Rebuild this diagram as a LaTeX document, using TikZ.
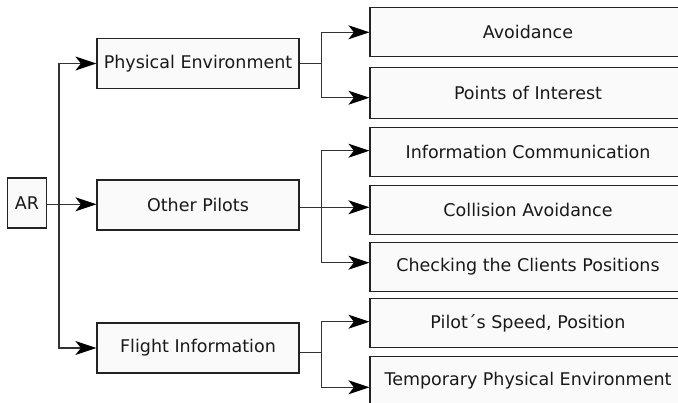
\documentclass[tikz,border=0pt]{standalone}
\usepackage{fontspec}
\setmainfont{DejaVu Sans}
\usetikzlibrary{arrows.meta, calc}
\definecolor{boxfill}{RGB}{250,250,250}
\definecolor{boxline}{RGB}{35,35,35}
\definecolor{wire}{RGB}{50,50,50}

\begin{document}
\begin{tikzpicture}[x=1pt, y=-1pt,
        base/.style={rectangle, draw=boxline, fill=boxfill, line width=1.2pt, inner sep=0pt,
          font=\fontsize{17.5pt}{21pt}\selectfont, text=black!90},
        rootbox/.style={base, minimum width=39pt, minimum height=50pt},
        catbox/.style={base, minimum width=202pt, minimum height=50pt},
        leafbox/.style={base, minimum width=316pt, minimum height=49pt},
        ln/.style={line width=1.2pt, wire},
        arr/.style={ln, -{Stealth[length=21pt, width=14pt, inset=5.5pt, color=black]}}]
        \useasboundingbox (0,0) rectangle (678,403);
        \clip (0,0) rectangle (678,403);
        % root and categories
        \node[rootbox] (ar)  at (27,203)   {AR};
        \node[catbox]  (pe)  at (198,63.5) {Physical Environment};
        \node[catbox]  (op)  at (198,205)  {Other Pilots};
        \node[catbox]  (fi)  at (198,348)  {Flight Information};
        % leaves
        \node[leafbox] (av)  at (528,31.7)  {Avoidance};
        \node[leafbox, minimum height=51pt] (poi) at (528,92.7) {Points of Interest};
        \node[leafbox] (ic)  at (528,152)   {Information Communication};
        \node[leafbox] (ca)  at (528,209.7) {Collision Avoidance};
        \node[leafbox] (cc)  at (528,266.7) {Checking the Clients Positions};
        \node[leafbox] (ps)  at (528,323.3) {Pilot´s Speed, Position};
        \node[leafbox] (tpe) at (528,381)   {Temporary Physical Environment};
        % junctions
        \coordinate (arj) at (59,204.3);
        \coordinate (pej) at (321.7,63.5);
        \coordinate (opj) at (321.7,207.3);
        \coordinate (fij) at (321.7,352.7);
        % AR to categories
        \draw[arr] (ar.east |- arj) -- (op.west |- arj);
        \draw[arr] (arj) |- (pe.west);
        \draw[arr] (arj) |- (fi.west);
        % Physical Environment
        \draw[ln] (pe.east |- pej) -- (pej);
        \draw[arr] (pej) |- ([yshift=-0.6pt]av.west);
        \draw[arr] (pej) |- ([yshift=-5pt]poi.west);
        % Other Pilots
        \draw[arr] (op.east |- opj) -- (ca.west |- opj);
        \draw[arr] (opj) |- ([yshift=1.3pt]ic.west);
        \draw[arr] (opj) |- ([yshift=4pt]cc.west);
        % Flight Information
        \draw[ln] (fi.east |- fij) -- (fij);
        \draw[arr] (fij) |- ([yshift=1.6pt]ps.west);
        \draw[arr] (fij) |- ([yshift=-6.3pt]tpe.west);
\end{tikzpicture}
\end{document}
